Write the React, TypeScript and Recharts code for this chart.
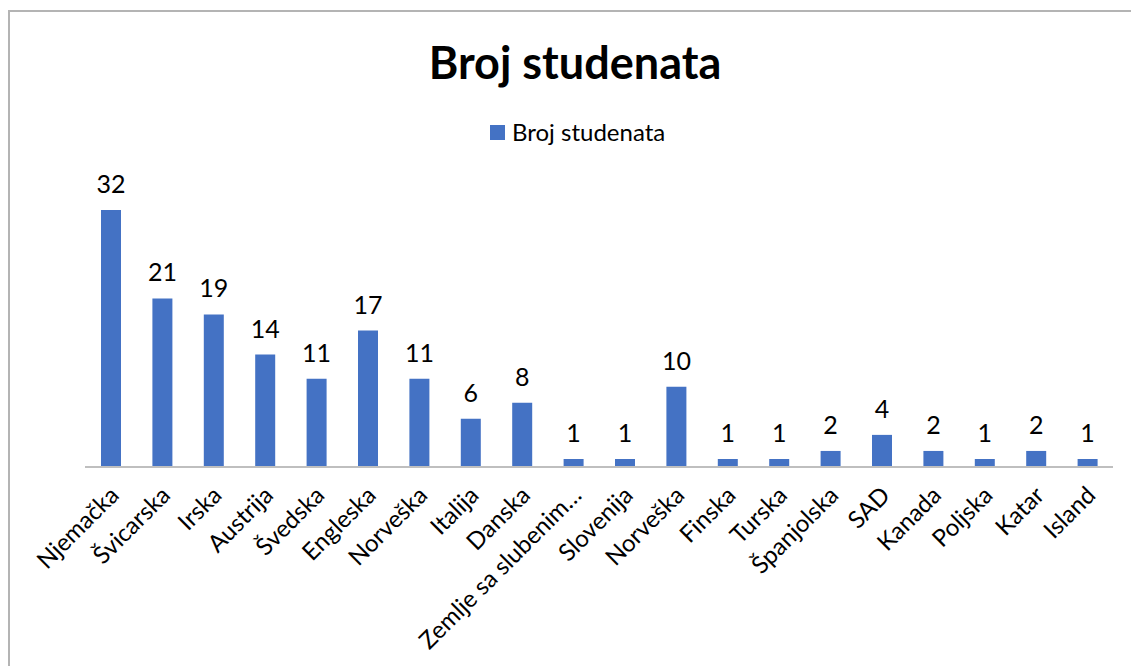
import { BarChart, Bar, XAxis, YAxis, LabelList } from "recharts";

const countries = [
  "Njemačka", "Švicarska", "Irska", "Austrija", "Švedska", "Engleska", "Norveška",
  "Italija", "Danska", "Zemlje sa slubenim…", "Slovenija", "Norveška", "Finska",
  "Turska", "Španjolska", "SAD", "Kanada", "Poljska", "Katar", "Island",
];
const students = [32, 21, 19, 14, 11, 17, 11, 6, 8, 1, 1, 10, 1, 1, 2, 4, 2, 1, 2, 1];

const data = countries.map((name, i) => ({ name, value: students[i] }));

const FONT = "Lato, 'Noto Sans', sans-serif";
const BLUE = "#4472C4";

const CountryTick = (props: any) => {
  const { x, y, payload } = props;
  const ax = x + 3;
  const ay = y + 15;
  return (
    <text
      x={ax}
      y={ay}
      transform={`rotate(-45, ${ax}, ${ay})`}
      textAnchor="end"
      dominantBaseline="central"
      fontFamily={FONT}
      fontSize={24}
      fill="#000"
    >
      {payload.value}
    </text>
  );
};

export default function App() {
  return (
    <div style={{ position: "absolute", left: 0, top: 0, width: 1131, height: 666, overflow: "hidden", background: "#fff" }}>
      <div style={{ position: "absolute", left: 8, top: 10, width: 1200, height: 800, borderLeft: "2px solid #b4b4b4", borderTop: "2px solid #b4b4b4" }} />
      <div
        style={{
          position: "absolute", left: 0, top: 34, width: 1150, textAlign: "center",
          fontFamily: FONT, fontWeight: 700, fontSize: 45, color: "#000", lineHeight: "56px",
        }}
      >
        Broj studenata
      </div>
      <div
        style={{
          position: "absolute", left: 490, top: 117, display: "flex", alignItems: "center",
          fontFamily: FONT, fontSize: 24, color: "#000", lineHeight: "30px",
        }}
      >
        <span style={{ display: "inline-block", width: 15, height: 15, background: BLUE, marginRight: 7 }} />
        Broj studenata
      </div>
      <div style={{ position: "absolute", left: 0, top: 0 }}>
        <BarChart width={1131} height={666} data={data} margin={{ top: 186, right: 18, bottom: 0, left: 85 }} barSize={20}>
          <XAxis
            dataKey="name"
            interval={0}
            tickLine={false}
            axisLine={{ stroke: "#bfbfbf", strokeWidth: 2 }}
            tick={<CountryTick />}
            height={199}
          />
          <YAxis hide domain={[0, 35]} />
          <Bar dataKey="value" name="Broj studenata" fill={BLUE} isAnimationActive={false}>
            <LabelList dataKey="value" position="top" offset={17} fill="#000" fontSize={25} fontFamily={FONT} />
          </Bar>
        </BarChart>
      </div>
    </div>
  );
}
